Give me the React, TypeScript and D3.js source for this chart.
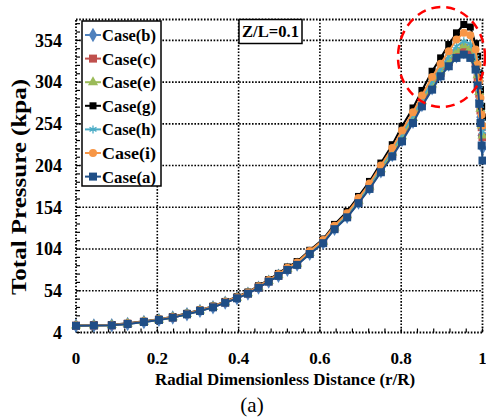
import React from "react";
import * as d3 from "d3";

// radial positions (r/R) shared by every case
const radius = [
  0, 0.044, 0.088, 0.127, 0.167, 0.204, 0.238, 0.273, 0.305, 0.337, 0.367, 0.396, 0.423, 0.449,
  0.474, 0.498, 0.52, 0.544, 0.575, 0.608, 0.636, 0.667, 0.695, 0.722, 0.75, 0.778, 0.802, 0.829,
  0.851, 0.876, 0.897, 0.917, 0.936, 0.954, 0.97, 0.983, 0.988, 0.992, 0.995, 0.998, 1.0,
];

const caseB = [
  12, 12.4, 12.6, 14.2, 16.6, 19.1, 21.9, 25.9, 29.9, 34.3, 39.8, 45.1, 50.6, 57.8, 65, 72, 79.2,
  85.3, 98.4, 111.5, 128.3, 142.6, 159.7, 177, 197, 216.5, 234.5, 256.5, 276.5, 296.5, 312.5, 325,
  335, 340, 336, 322, 304, 283, 262, 240, 225,
];
const caseC = [
  12.1, 12.5, 12.7, 14.4, 16.8, 19.2, 22, 26, 30, 34.5, 40, 45.3, 50.8, 58, 65.3, 72.3, 79.6, 85.8,
  99, 112, 129, 143.5, 160.8, 178, 198, 218, 237, 259, 279, 299, 315, 328, 339, 345, 342, 327, 309,
  290, 270, 250, 238,
];
const caseE = [
  12.2, 12.6, 12.8, 14.5, 16.9, 19.3, 22.1, 26.1, 30.2, 34.6, 40.2, 45.5, 51.1, 58.4, 65.7, 72.7,
  80.1, 86.4, 99.6, 112.8, 129.8, 144.4, 161.8, 179, 199.5, 219.5, 239, 261, 281, 301, 317, 330, 342,
  348, 345, 330, 312, 292, 272, 252, 240,
];
const caseG = [
  12.5, 13, 13.2, 15, 17.4, 20, 22.8, 27, 31, 35.6, 41.2, 46.8, 52.5, 60, 67.5, 74.8, 82.5, 89,
  102.5, 116, 133.5, 149, 167, 185, 207, 229, 251, 273, 294, 317, 333, 349, 363, 373, 370, 350, 335,
  315, 295, 275, 262,
];
const caseH = [
  12.3, 12.7, 12.9, 14.6, 17, 19.5, 22.3, 26.3, 30.4, 34.9, 40.5, 45.9, 51.5, 58.8, 66.2, 73.3,
  80.8, 87.2, 100.5, 113.6, 130.8, 145.6, 163.3, 180.5, 201.5, 222, 242, 264, 284, 305, 320, 335,
  347, 353, 350, 334, 316, 296, 276, 257, 245,
];
const caseI = [
  12.4, 12.8, 13, 14.8, 17.2, 19.7, 22.5, 26.6, 30.6, 35.2, 40.8, 46.3, 52, 59.4, 66.8, 74, 81.6,
  88, 101.5, 114.8, 132, 147, 165, 182.5, 204, 225, 246, 268, 288, 310, 326, 341, 355, 363, 360, 343,
  325, 305, 285, 265, 252,
];
const caseA = [
  12, 12.4, 12.6, 14.2, 16.6, 19, 21.8, 25.8, 29.8, 34.2, 39.7, 45, 50.5, 57.7, 64.9, 71.8, 79, 85,
  98, 111, 127.8, 142, 159, 176, 196, 215, 233, 255, 275, 295, 311, 323, 333, 337, 333, 319, 300,
  278, 255, 228, 210,
];

const seriesNames = ["Case(b)", "Case(c)", "Case(e)", "Case(g)", "Case(h)", "Case(i)", "Case(a)"];
const seriesValues = [caseB, caseC, caseE, caseG, caseH, caseI, caseA];
const seriesColors = ["#4F81BD", "#C0504D", "#9BBB59", "#000000", "#4BACC6", "#F79646", "#1F4E86"];
const seriesMarkers = ["diamond", "square", "triangle", "smallSquare", "asterisk", "circle", "square"];

const xTicks = [0, 0.2, 0.4, 0.6, 0.8, 1];
const xTickLabels = ["0", "0.2", "0.4", "0.6", "0.8", "1"];
const yTicks = [4, 54, 104, 154, 204, 254, 304, 354];

const W = 486;
const H = 419;
const plot = { left: 76, right: 482.5, top: 19.5, bottom: 332.5 };
const font = "'Liberation Serif', 'Times New Roman', serif";

const x = d3.scaleLinear().domain([0, 1]).range([plot.left, plot.right]);
const y = d3.scaleLinear().domain([4, 379]).range([plot.bottom, plot.top]);

function Marker({ kind, cx, cy, color }: { kind: string; cx: number; cy: number; color: string }) {
  if (kind === "diamond") {
    const p = d3.symbol(d3.symbolDiamond, 60)();
    return <path d={p || ""} transform={`translate(${cx},${cy})`} fill={color} />;
  }
  if (kind === "square") {
    return <rect x={cx - 4} y={cy - 4} width={8} height={8} fill={color} />;
  }
  if (kind === "smallSquare") {
    return <rect x={cx - 3.5} y={cy - 3.5} width={7} height={7} fill={color} />;
  }
  if (kind === "triangle") {
    const p = d3.symbol(d3.symbolTriangle, 45)();
    return <path d={p || ""} transform={`translate(${cx},${cy})`} fill={color} />;
  }
  if (kind === "asterisk") {
    const p = d3.symbol(d3.symbolAsterisk, 45)();
    return <path d={p || ""} transform={`translate(${cx},${cy})`} fill="none" stroke={color} strokeWidth={1.3} />;
  }
  return <circle cx={cx} cy={cy} r={4} fill={color} />;
}

export default function App() {
  const line = d3
    .line<number>()
    .x((_, i) => x(radius[i]))
    .y((d) => y(d));

  const xMinor = d3.range(0, 1.0001, 0.04);
  const yMinor = d3.range(4, 379, 10);

  const legend = { x: 82, y: 21, w: 79, h: 165 };

  return (
    <svg width={W} height={H} style={{ position: "absolute", left: 0, top: 0, background: "#fff" }}>
      {/* grid */}
      {yTicks.slice(1).map((t) => (
        <line key={"gy" + t} x1={plot.left} x2={plot.right} y1={y(t)} y2={y(t)} stroke="#000" strokeWidth={1.6} strokeDasharray="1.6 1.6" />
      ))}
      {xTicks.slice(1, -1).map((t) => (
        <line key={"gx" + t} x1={x(t)} x2={x(t)} y1={plot.top} y2={plot.bottom} stroke="#000" strokeWidth={1.6} strokeDasharray="1.6 1.6" />
      ))}
      {/* frame */}
      <rect x={plot.left} y={plot.top} width={plot.right - plot.left} height={plot.bottom - plot.top} fill="none" stroke="#000" strokeWidth={1.8} strokeDasharray="1.6 1.6" />
      {xMinor.map((t) => (
        <line key={"mx" + t} x1={x(t)} x2={x(t)} y1={plot.bottom} y2={plot.bottom - 4} stroke="#000" strokeWidth={1.2} />
      ))}
      {yMinor.map((t) => (
        <line key={"my" + t} x1={plot.left} x2={plot.left + 4} y1={y(t)} y2={y(t)} stroke="#000" strokeWidth={1.2} />
      ))}

      {/* series */}
      {seriesValues.map((vals, si) => (
        <g key={seriesNames[si]}>
          <path d={line(vals) || ""} fill="none" stroke={seriesColors[si]} strokeWidth={2} />
          {vals.map((v, i) => (
            <Marker key={i} kind={seriesMarkers[si]} cx={x(radius[i])} cy={y(v)} color={seriesColors[si]} />
          ))}
        </g>
      ))}

      {/* highlighted peak region */}
      <ellipse cx={441.5} cy={57} rx={43.5} ry={50} fill="none" stroke="#FF0000" strokeWidth={2.5} strokeDasharray="9 6" />

      {/* legend */}
      <rect x={legend.x} y={legend.y} width={legend.w} height={legend.h} fill="#fff" stroke="#000" strokeWidth={1.5} />
      {seriesNames.map((name, i) => {
        const cy = 35 + i * 23.6;
        return (
          <g key={"lg" + name}>
            <line x1={85} x2={101} y1={cy} y2={cy} stroke={seriesColors[i]} strokeWidth={2} />
            <Marker kind={seriesMarkers[i]} cx={93} cy={cy} color={seriesColors[i]} />
            <text x={102} y={cy} dy="0.35em" fontFamily={font} fontWeight="bold" fontSize={17} textLength={54} lengthAdjust="spacingAndGlyphs">
              {name}
            </text>
          </g>
        );
      })}

      {/* annotation */}
      <rect x={239} y={19.5} width={63} height={24} fill="#fff" stroke="#000" strokeWidth={1.5} />
      <text x={270.5} y={31.5} dy="0.35em" textAnchor="middle" fontFamily={font} fontWeight="bold" fontSize={17} textLength={57} lengthAdjust="spacingAndGlyphs">
        Z/L=0.1
      </text>

      {/* axis labels */}
      {yTicks.map((t) => (
        <text key={"yl" + t} x={62} y={y(t)} dy="0.35em" textAnchor="end" fontFamily={font} fontWeight="bold" fontSize={18}>
          {t}
        </text>
      ))}
      {xTicks.map((t, i) => (
        <text key={"xl" + t} x={x(t)} y={358.5} dy="0.35em" textAnchor="middle" fontFamily={font} fontWeight="bold" fontSize={17}>
          {xTickLabels[i]}
        </text>
      ))}
      <text x={285} y={379.5} dy="0.35em" textAnchor="middle" fontFamily={font} fontWeight="bold" fontSize={17} textLength={260} lengthAdjust="spacingAndGlyphs">
        Radial Dimensionless Distance (r/R)
      </text>
      <text transform={`translate(19,187) rotate(-90)`} dy="0.35em" textAnchor="middle" fontFamily={font} fontWeight="bold" fontSize={21} textLength={216} lengthAdjust="spacingAndGlyphs">
        Total Pressure (kpa)
      </text>
      <text x={252} y={405} dy="0.35em" textAnchor="middle" fontFamily={font} fontSize={21}>
        (a)
      </text>
    </svg>
  );
}
